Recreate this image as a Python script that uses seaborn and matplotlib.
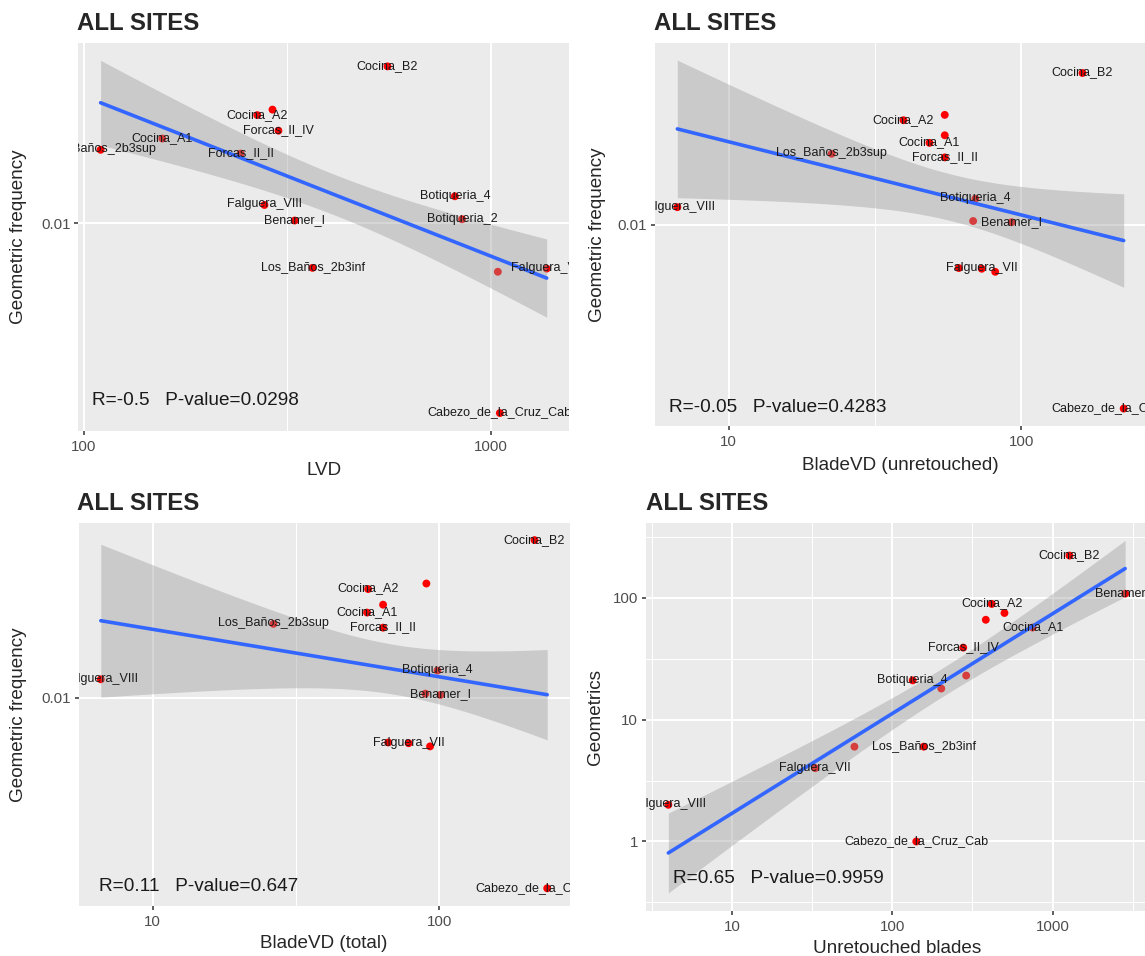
import numpy as np
import pandas as pd
import matplotlib
matplotlib.use("Agg")
import matplotlib.pyplot as plt
import seaborn as sns

# Site names (two labels are hidden by overlap in the original, names unreadable)
sites = ["Cocina_B2", "Cocina_A2", "Site_14", "Forcas_II_IV", "Cocina_A1",
         "Los_Baños_2b3sup", "Forcas_II_II", "Botiqueria_4", "Falguera_VIII",
         "Benamer_I", "Botiqueria_2", "Los_Baños_2b3inf", "Site_15",
         "Falguera_VII", "Cabezo_de_la_Cruz_Cab"]

geom_freq = [0.0335, 0.0230, 0.0240, 0.0204, 0.0192, 0.0176, 0.0171, 0.0123,
             0.0115, 0.0102, 0.0103, 0.00708, 0.00687, 0.00704, 0.00231]
lvd = [558, 267, 291, 301, 156, 110, 243, 817, 278, 330, 851, 365, 1042, 1374, 1054]
blade_vd_unret = [162, 39.6, 54.8, 54.8, 48.6, 22.5, 54.8, 69.7, 6.68, 92.7,
                  68.5, 61.2, 81.5, 73.3, 224]
blade_vd_total = [215, 56.5, 90.2, 63.7, 56.0, 26.4, 63.7, 98.6, 6.6, 101,
                  89.5, 66.4, 92.9, 78.2, 238]
unret_blades = [1274, 417, 501, 277, 751, 289, 383, 134, 4, 2838, 202, 157, 58, 33, 141]
geometrics = [222, 89, 75, 39, 57, 23, 66, 21, 2, 108, 18, 6, 6, 4, 1]

# labels not drawn in each panel (overlap check in the original)
hidden_1 = ["Site_14", "Site_15"]
hidden_2 = ["Site_14", "Forcas_II_IV", "Botiqueria_2", "Los_Baños_2b3inf", "Site_15"]
hidden_3 = ["Site_14", "Forcas_II_IV", "Botiqueria_2", "Los_Baños_2b3inf", "Site_15"]
hidden_4 = ["Site_14", "Forcas_II_II", "Los_Baños_2b3sup", "Botiqueria_2", "Site_15"]

stats = ["R=-0.5   P-value=0.0298", "R=-0.05   P-value=0.4283",
         "R=0.11   P-value=0.647", "R=0.65   P-value=0.9959"]

W, H = 1145, 956
BAND_MULT = 1.08  # half-width of the grey band in standard errors (matches the picture)

sns.set_style("darkgrid", {"axes.facecolor": "#EBEBEB", "grid.color": "white"})
plt.rcParams["font.family"] = ["Liberation Sans", "DejaVu Sans"]

fig = plt.figure(figsize=(W / 100, H / 100), dpi=100)


def px_axes(l, t, r, b):
    return fig.add_axes([l / W, 1 - b / H, (r - l) / W, (b - t) / H])


def draw_panel(box, x, y, hidden, xlab, ylab, stat, stat_pos, title_xy, xlab_y, ylab_x):
    ax = px_axes(*box)
    df = pd.DataFrame({"lx": np.log10(x), "ly": np.log10(y), "site": sites})

    sns.scatterplot(data=df, x="lx", y="ly", color="#FF0000", s=32,
                    edgecolor="none", ax=ax, zorder=2)

    # linear fit on log scales with confidence band
    n = len(df)
    b, a = np.polyfit(df.lx, df.ly, 1)
    grid = np.linspace(df.lx.min(), df.lx.max(), 80)
    resid = df.ly - (a + b * df.lx)
    s = np.sqrt((resid ** 2).sum() / (n - 2))
    sxx = ((df.lx - df.lx.mean()) ** 2).sum()
    se = s * np.sqrt(1 / n + (grid - df.lx.mean()) ** 2 / sxx)
    fit = a + b * grid
    lo, hi = fit - BAND_MULT * se, fit + BAND_MULT * se
    ax.fill_between(grid, lo, hi, color="#999999", alpha=0.4, lw=0, zorder=3)
    sns.regplot(data=df, x="lx", y="ly", scatter=False, ci=None, color="#3366FF",
                line_kws=dict(lw=2.6, zorder=4), ax=ax)

    for _, r in df.iterrows():
        if r.site in hidden:
            continue
        ax.annotate(r.site, (r.lx, r.ly), xytext=(0, -1.8), textcoords="offset points",
                    ha="center", va="baseline", fontsize=9, color="#1A1A1A",
                    clip_on=True, zorder=5)

    # limits with 5% expansion like ggplot
    x0, x1 = df.lx.min(), df.lx.max()
    y0, y1 = min(df.ly.min(), lo.min()), max(df.ly.max(), hi.max())
    ax.set_xlim(x0 - 0.05 * (x1 - x0), x1 + 0.05 * (x1 - x0))
    ax.set_ylim(y0 - 0.05 * (y1 - y0), y1 + 0.05 * (y1 - y0))

    for axis, (v0, v1) in ((ax.xaxis, ax.get_xlim()), (ax.yaxis, ax.get_ylim())):
        major = [k for k in range(int(np.floor(v0)), int(np.ceil(v1)) + 1) if v0 <= k <= v1]
        axis.set_ticks(major)
        axis.set_ticklabels([f"{10.0 ** k:g}" for k in major])
        if len(major) >= 2:
            minor = [m + 0.5 for m in range(major[0] - 1, major[-1] + 1) if v0 <= m + 0.5 <= v1]
            axis.set_ticks(minor, minor=True)

    ax.grid(which="major", color="white", lw=1.5)
    ax.grid(which="minor", color="white", lw=0.75)
    ax.tick_params(which="major", length=3.1, width=1.1, color="#333333",
                   labelsize=10.8, labelcolor="#4D4D4D", bottom=True, left=True)
    ax.tick_params(axis="x", which="major", pad=3.4)
    ax.tick_params(axis="y", which="major", pad=2.4)
    ax.tick_params(which="minor", length=0)
    for sp in ax.spines.values():
        sp.set_visible(False)
    ax.set_xlabel("")
    ax.set_ylabel("")

    ax.text(stat_pos[0], stat_pos[1], stat, transform=ax.transAxes, ha="left",
            va="center", fontsize=13.7, color="#1A1A1A", zorder=6)

    fig.text(title_xy[0] / W, 1 - title_xy[1] / H, "ALL SITES", fontsize=17.3,
             fontweight="bold", ha="left", va="baseline")
    fig.text((box[0] + box[2]) / 2 / W, 1 - xlab_y / H, xlab, fontsize=13.6,
             ha="center", va="baseline")
    fig.text(ylab_x / W, 1 - (box[1] + box[3]) / 2 / H, ylab, fontsize=13.6,
             rotation=90, ha="center", va="center")
    return ax


draw_panel((78.3, 42.7, 569, 430.7), lvd, geom_freq, hidden_1, "LVD",
           "Geometric frequency", stats[0], (0.027, 0.079), (77, 30), 475, 19)
draw_panel((655, 42.7, 1146, 426), blade_vd_unret, geom_freq, hidden_2,
           "BladeVD (unretouched)", "Geometric frequency", stats[1], (0.0285, 0.048),
           (654.4, 30), 470, 597)
draw_panel((78.5, 522.7, 569.5, 905.7), blade_vd_total, geom_freq, hidden_3,
           "BladeVD (total)", "Geometric frequency", stats[2], (0.042, 0.05),
           (77, 510), 948, 19)
draw_panel((645.5, 522.7, 1148, 910.5), unret_blades, geometrics, hidden_4,
           "Unretouched blades", "Geometrics", stats[3], (0.054, 0.083),
           (646, 510), 953, 596)

fig.savefig("out.png", dpi=100)
